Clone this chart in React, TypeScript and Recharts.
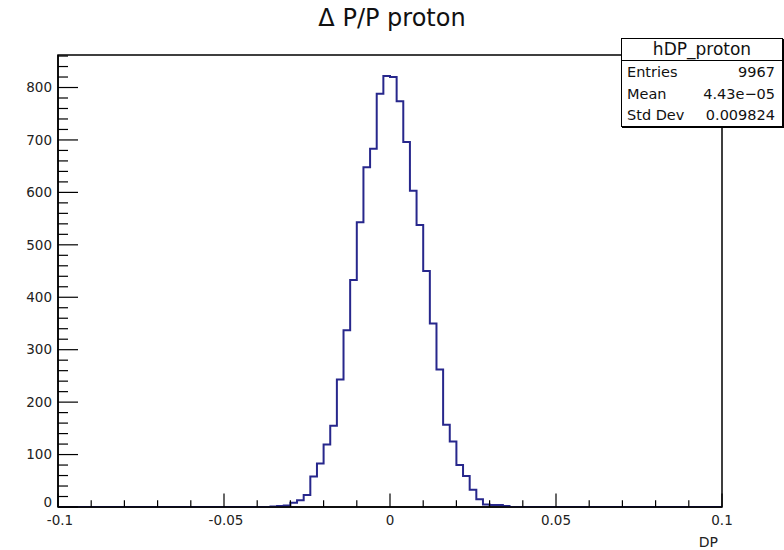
import { LineChart, Line, XAxis, YAxis, ReferenceArea } from 'recharts';

// histogram hDP_proton, 100 bins on [-0.1, 0.1]; only the non-empty bins are listed
const binStart = -0.036;
const binWidth = 0.002;
const counts = [
  1, 2, 3, 8, 13, 23, 58, 83, 119, 155, 243, 337, 433, 543, 648, 683, 788, 822,
  820, 774, 696, 603, 538, 450, 350, 262, 157, 125, 80, 59, 33, 15, 5, 4, 4, 2,
];

const xTicks = [
  -0.1, -0.09, -0.08, -0.07, -0.06, -0.05, -0.04, -0.03, -0.02, -0.01, 0,
  0.01, 0.02, 0.03, 0.04, 0.05, 0.06, 0.07, 0.08, 0.09, 0.1,
];
const xMajor = [-0.1, -0.05, 0, 0.05, 0.1];
const yMajor = [0, 100, 200, 300, 400, 500, 600, 700, 800];
const yMax = 862;
const yTicks = Array.from({ length: 44 }, (_, i) => i * 20);

const stats = [
  ['Entries', '9967'],
  ['Mean', '4.43e\u221205'],
  ['Std Dev', '0.009824'],
];

const data = [
  { x: -0.1, y: 0 },
  ...counts.map((c, i) => ({ x: +(binStart + i * binWidth).toFixed(4), y: c })),
  { x: +(binStart + counts.length * binWidth).toFixed(4), y: 0 },
  { x: 0.1, y: 0 },
];

const FONT = '"DejaVu Sans", "Liberation Sans", Arial, sans-serif';

const XTick = (props: any) => {
  const { x, y, payload } = props;
  const v = payload.value;
  const major = xMajor.some((m) => Math.abs(m - v) < 1e-9);
  return (
    <g>
      <line x1={x} x2={x} y1={y} y2={y - (major ? 13.5 : 6.8)} stroke="#000" strokeWidth={1.2} />
      {major && (
        <text x={x + (v < 0 ? 2 : 0)} y={y + 18} textAnchor="middle" fontSize={13.5} fontFamily={FONT} fill="#222">
          {String(v)}
        </text>
      )}
    </g>
  );
};

const YTick = (props: any) => {
  const { x, y, payload } = props;
  const v = payload.value;
  const major = yMajor.includes(v);
  return (
    <g>
      <line x1={x} x2={x + (major ? 20 : 10)} y1={y} y2={y} stroke="#000" strokeWidth={1.2} />
      {major && (
        <text x={x - 6} y={v === 0 ? y - 5 : y} dy="0.35em" textAnchor="end" fontSize={13.5} fontFamily={FONT} fill="#222">
          {v}
        </text>
      )}
    </g>
  );
};

export default function App() {
  return (
    <div style={{ position: 'absolute', left: 0, top: 0, width: 784, height: 550, background: '#fff' }}>
      <LineChart width={784} height={550} data={data} margin={{ top: 55, right: 62, bottom: 0, left: 0 }}>
        <XAxis
          type="number"
          dataKey="x"
          domain={[-0.1, 0.1]}
          ticks={xTicks}
          interval={0}
          height={43}
          tickSize={0}
          tickMargin={0}
          tick={<XTick />}
          axisLine={{ stroke: '#000', strokeWidth: 1.5 }}
          allowDataOverflow
        />
        <YAxis
          type="number"
          domain={[0, yMax]}
          ticks={yTicks}
          interval={0}
          width={58}
          tickSize={0}
          tickMargin={0}
          tick={<YTick />}
          axisLine={{ stroke: '#000', strokeWidth: 1.5 }}
          allowDataOverflow
        />
        <ReferenceArea x1={-0.1} x2={0.1} y1={0} y2={yMax} fill="none" stroke="#000" strokeWidth={1.5} ifOverflow="visible" />
        <Line
          type="stepAfter"
          dataKey="y"
          stroke="#27278c"
          strokeWidth={2}
          dot={false}
          isAnimationActive={false}
        />
      </LineChart>

      <div style={{ position: 'absolute', left: 0, top: 4, width: 784, textAlign: 'center', fontFamily: FONT, fontSize: 24, lineHeight: '28px', color: '#111' }}>
        Δ P/P proton
      </div>

      <div style={{ position: 'absolute', left: 600, top: 533, width: 118, textAlign: 'right', fontFamily: FONT, fontSize: 14, lineHeight: '18px', color: '#222' }}>
        DP
      </div>

      <div
        style={{
          position: 'absolute',
          left: 621,
          top: 38,
          width: 162,
          height: 89,
          boxSizing: 'border-box',
          border: '1px solid #000',
          boxShadow: '1px 1px 0 #000',
          background: '#fff',
          fontFamily: FONT,
          color: '#111',
        }}
      >
        <div style={{ height: 22, boxSizing: 'border-box', borderBottom: '1px solid #000', textAlign: 'center', fontSize: 17, lineHeight: '21px' }}>
          hDP_proton
        </div>
        {stats.map(([k, v]) => (
          <div key={k} style={{ height: 21.7, display: 'flex', justifyContent: 'space-between', alignItems: 'center', padding: '0 7px 0 5px', fontSize: 14.5 }}>
            <span>{k}</span>
            <span>{v}</span>
          </div>
        ))}
      </div>
    </div>
  );
}
